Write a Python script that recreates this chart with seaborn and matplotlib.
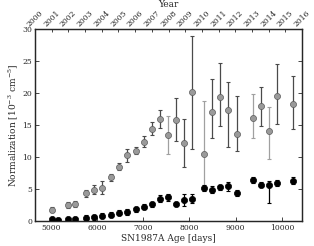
import numpy as np
import matplotlib
matplotlib.use('Agg')
import matplotlib.pyplot as plt
import seaborn as sns
from pandas import DataFrame

sns.set_style('ticks')
plt.rcParams['font.family'] = ['DejaVu Serif']
plt.rcParams['mathtext.fontset'] = 'dejavuserif'

# ages of the observations [days]
age = [5021, 5164, 5380, 5532, 5763, 5943, 6109, 6304, 6477, 6650,
       6838, 7018, 7191, 7364, 7537, 7710, 7890, 8063, 8322, 8495,
       8668, 8841, 9023, 9369, 9542, 9715, 9895, 10247]

# black series
norm_b = [0.27, 0.2, 0.3, 0.35, 0.5, 0.6, 0.8, 1.0, 1.3, 1.4,
          1.8, 2.2, 2.6, 3.5, 3.7, 2.6, 3.3, 3.5, 5.2, 4.9,
          5.3, 5.4, 4.4, 6.4, 5.7, 5.7, 5.9, 6.3]
lo_b = [0.2, 0.2, 0.2, 0.3, 0.4, 0.4, 0.4, 0.4, 0.4, 0.4,
        0.4, 0.4, 0.4, 0.5, 0.5, 0.3, 0.9, 0.7, 0.5, 0.5,
        0.4, 0.7, 0.5, 0.5, 0.4, 2.9, 0.5, 0.5]
hi_b = [0.2, 0.2, 0.2, 0.3, 0.4, 0.4, 0.4, 0.4, 0.4, 0.4,
        0.4, 0.4, 0.4, 0.5, 0.5, 0.3, 0.9, 0.7, 0.5, 0.5,
        0.4, 0.7, 0.5, 0.5, 0.4, 0.6, 0.5, 0.5]

# grey series (no point at 5164 d)
norm_g = [1.75, np.nan, 2.5, 2.65, 4.3, 4.9, 5.2, 6.8, 8.5, 10.25,
          11.0, 12.4, 14.4, 16.0, 13.45, 15.85, 12.2, 20.1, 10.5, 17.0,
          19.4, 17.3, 13.65, 16.1, 17.95, 14.1, 19.6, 18.3]
lo_g = [0.4, np.nan, 0.4, 0.4, 0.5, 0.7, 1.0, 0.5, 0.6, 1.0,
        0.6, 0.9, 1.0, 1.4, 3.0, 3.3, 3.7, 8.8, 5.2, 4.1,
        4.5, 5.7, 2.65, 3.2, 3.15, 4.4, 4.5, 4.0]
hi_g = [0.4, np.nan, 0.4, 0.4, 0.5, 0.7, 1.0, 0.5, 0.6, 1.0,
        0.6, 0.9, 1.0, 1.4, 3.0, 3.3, 3.7, 8.8, 8.2, 5.2,
        5.35, 4.4, 5.85, 3.7, 2.95, 3.75, 4.9, 4.3]
light_g = [7537, 8322, 9369, 9715]

years = list(range(2000, 2017))

df = DataFrame({'age': age, 'black': norm_b, 'grey': norm_g})

fig = plt.figure(figsize=(3.14, 2.46), dpi=100)
ax = fig.add_axes([0.1115, 0.1016, 0.8505, 0.7805])

# grey error bars, some drawn lighter
for i, a in enumerate(age):
    if np.isnan(norm_g[i]):
        continue
    ec = '#a0a0a0' if a in light_g else '#4a4a4a'
    ax.errorbar([a], [norm_g[i]], yerr=[[lo_g[i]], [hi_g[i]]], fmt='none',
                ecolor=ec, elinewidth=0.9, capsize=1.5, capthick=0.8, zorder=2)
sns.scatterplot(data=df, x='age', y='grey', ax=ax, color='#9a9a9a',
                edgecolor='#5a5a5a', linewidth=0.5, s=19, zorder=3)

ax.errorbar(age, norm_b, yerr=[lo_b, hi_b], fmt='none', ecolor='black',
            elinewidth=0.9, capsize=1.5, capthick=0.8, zorder=4)
sns.scatterplot(data=df, x='age', y='black', ax=ax, color='black',
                edgecolor='black', linewidth=0.5, s=20, zorder=5)

ax.set_xlim(4660, 10435)
ax.set_ylim(0, 30)
ax.set_xticks([5000, 6000, 7000, 8000, 9000, 10000])
ax.set_yticks([0, 5, 10, 15, 20, 25, 30])
ax.set_xlabel('SN1987A Age [days]', fontsize=6.5, labelpad=1.5)
ax.set_ylabel('Normalization [10$^{-3}$ cm$^{-5}$]', fontsize=6.5, labelpad=2)
ax.tick_params(direction='in', labelsize=5.5, length=3, width=0.6,
               top=False, right=True, pad=2)
for s in ax.spines.values():
    s.set_linewidth(1.0)
    s.set_color('#333333')

# top axis with calendar years
top = ax.twiny()
top.set_xlim(ax.get_xlim())
top.set_xticks(np.linspace(4660, 10435, len(years)))
top.set_xticklabels([str(y) for y in years], rotation=45, fontsize=5.5)
top.set_xlabel('Year', fontsize=6.5, labelpad=1)
top.tick_params(direction='in', length=2.5, width=0.6, pad=0.5)

fig.savefig('out.png', dpi=100)
